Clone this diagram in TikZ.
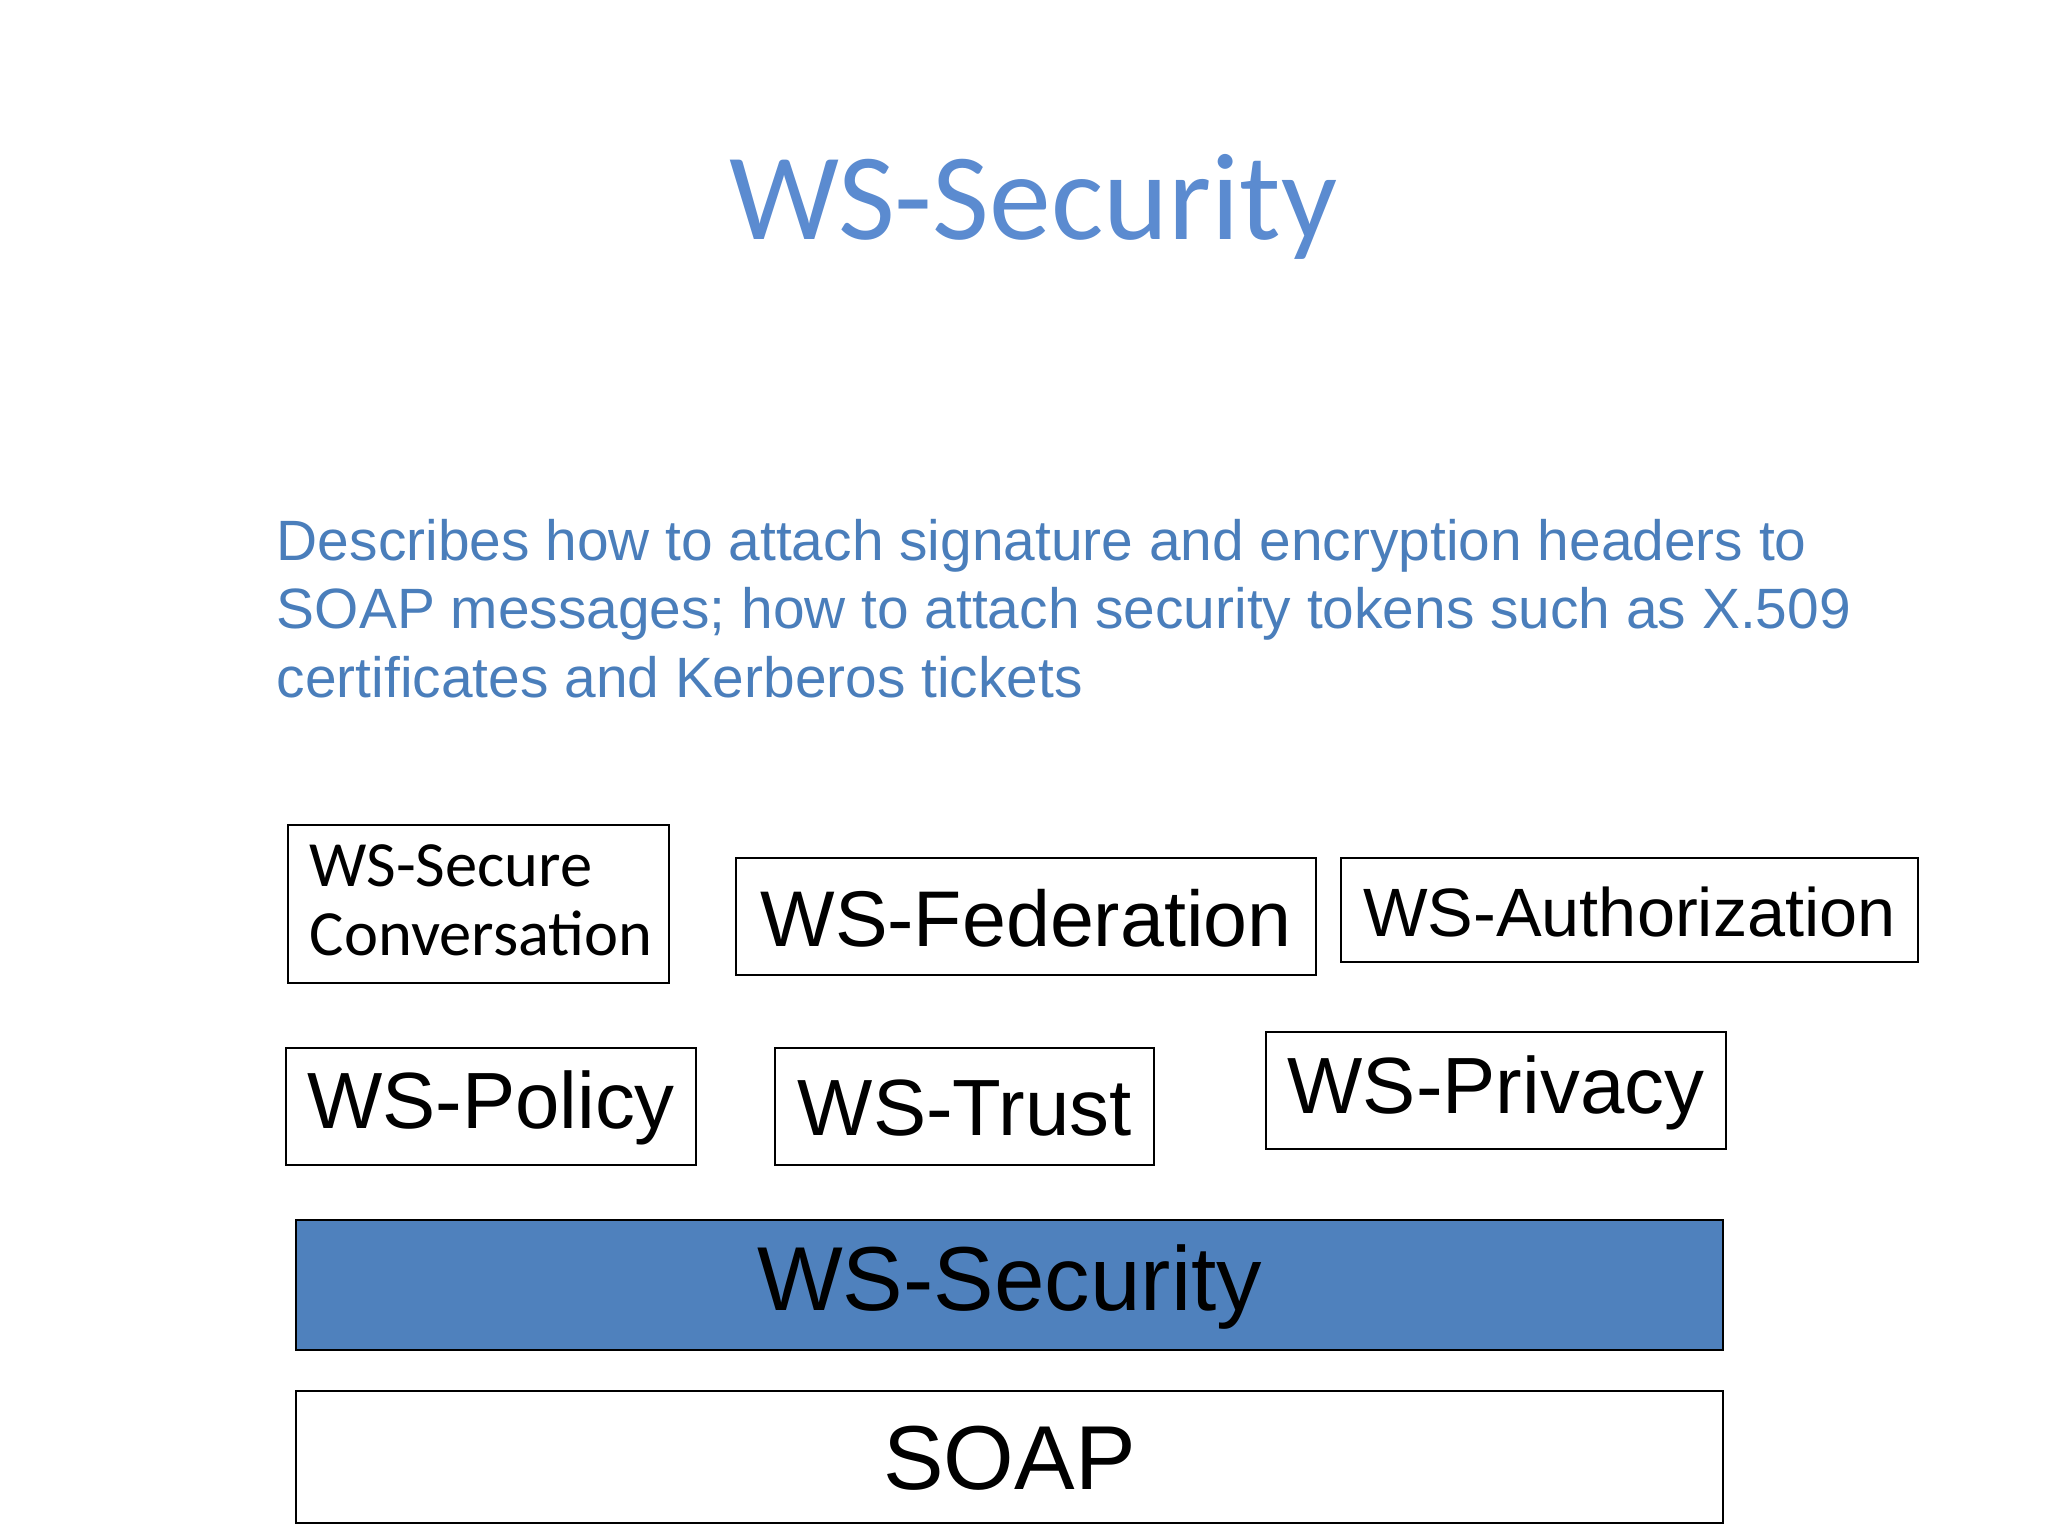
\documentclass[tikz,border=0pt]{standalone}
\usepackage{fontspec}
\setmainfont{Liberation Sans}
\newfontfamily\calfont{Carlito}
\definecolor{tblue}{HTML}{5B8BD0}
\definecolor{bblue}{HTML}{4F81BD}
\definecolor{dblue}{HTML}{4A7EBB}
\begin{document}
\begin{tikzpicture}[x=0.5pt,y=-0.5pt,
 bx/.style={draw=black,line width=0.8pt,inner sep=0pt}]
\useasboundingbox (0,0) rectangle (1556,1167);
\node[text=tblue,font=\calfont\fontsize{47}{50}\selectfont] (title) at (785,157) {WS-Security};
\node[anchor=north west,align=left,inner sep=0pt,text=dblue,font=\fontsize{21.6}{26}\selectfont] (desc) at (210,394)
 {Describes how to attach signature and encryption headers to\\SOAP messages; how to attach security tokens such as X.509\\certificates and Kerberos tickets};
\draw[bx] (219,627) rectangle (508,747);
\node[anchor=north west,align=left,inner sep=0pt,font=\calfont\fontsize{24.5}{26.5}\selectfont] (wssc) at (235,641) {WS-Secure\\Conversation};
\draw[bx] (559,652) rectangle (1000,741);
\node[font=\fontsize{30}{34}\selectfont] (fed) at (779.5,698) {WS-Federation};
\draw[bx] (1019,652) rectangle (1457,731);
\node[font=\fontsize{26}{30}\selectfont] (auth) at (1238,693) {WS-Authorization};
\draw[bx] (217,796) rectangle (529,885);
\node[font=\fontsize{30.3}{34}\selectfont] (pol) at (373,842) {WS-Policy};
\draw[bx] (589,796) rectangle (877,885);
\node[font=\fontsize{30.3}{34}\selectfont] (tr) at (733,842) {WS-Trust};
\draw[bx] (962,784) rectangle (1311,873);
\node[font=\fontsize{30.3}{34}\selectfont] (pr) at (1136.5,830) {WS-Privacy};
\draw[bx,fill=bblue] (225,927) rectangle (1309,1026);
\node[font=\fontsize{34.5}{40}\selectfont] (sec) at (767,978) {WS-Security};
\draw[bx] (225,1057) rectangle (1309,1157);
\node[font=\fontsize{34.5}{40}\selectfont] (soap) at (767,1108) {SOAP};
\end{tikzpicture}
\end{document}
